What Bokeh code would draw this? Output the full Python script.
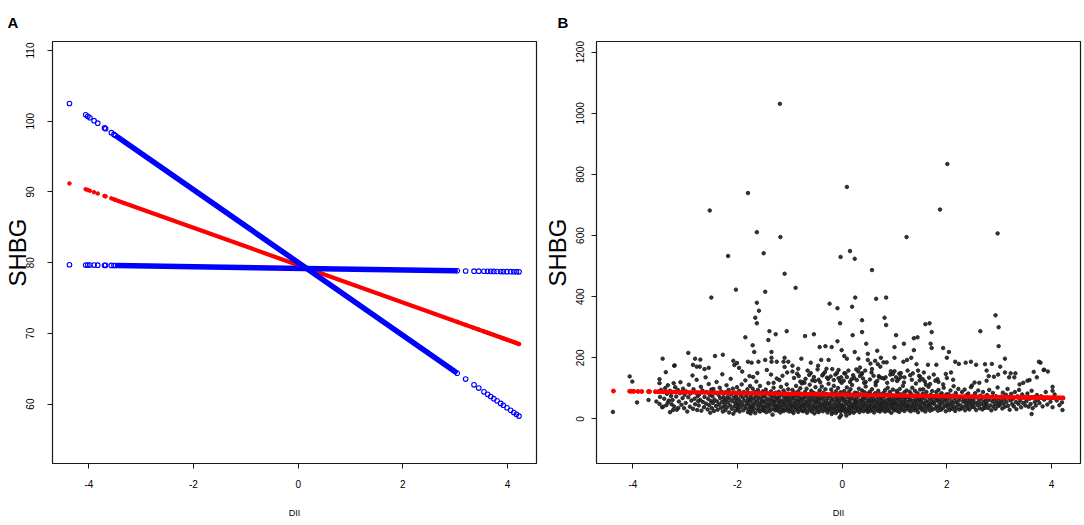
from bokeh.plotting import figure
from bokeh.models import FixedTicker, Range1d
from bokeh.layouts import row
from bokeh.embed import file_html
from bokeh.resources import INLINE

# ---------------- data ----------------
dii_ticks = [-4, -2, 0, 2, 4]
shbg_ticks_a = [60, 70, 80, 90, 100, 110]
shbg_ticks_b = [0, 200, 400, 600, 800, 1000, 1200]

# Panel A: fitted SHBG and the two bounds at the isolated DII observations
dii_sparse = [-4.37, -4.06, -4.02, -3.98, -3.90, -3.83, -3.70, -3.68, -3.57, -3.52, -3.49,
              3.04, 3.20, 3.36, 3.45, 3.55, 3.62, 3.68, 3.74, 3.80, 3.87, 3.92, 3.99, 4.06, 4.12, 4.17, 4.22]
fit_sparse = [91.20, 90.38, 90.27, 90.17, 89.96, 89.77, 89.43, 89.38, 89.09, 88.95, 88.87,
              71.62, 71.19, 70.77, 70.53, 70.27, 70.08, 69.92, 69.77, 69.61, 69.42, 69.29, 69.10, 68.92, 68.76, 68.63, 68.50]
bound_steep_sparse = [102.50, 100.90, 100.70, 100.49, 100.08, 99.72, 99.05, 98.95, 98.38, 98.13, 97.97,
                      64.37, 63.54, 62.72, 62.26, 61.74, 61.38, 61.07, 60.77, 60.46, 60.10, 59.84, 59.48, 59.12, 58.81, 58.55, 58.30]
bound_flat_sparse = [79.70, 79.66, 79.66, 79.65, 79.65, 79.64, 79.62, 79.62, 79.61, 79.60, 79.60,
                     78.84, 78.82, 78.80, 78.79, 78.78, 78.77, 78.77, 78.76, 78.75, 78.74, 78.74, 78.73, 78.72, 78.71, 78.71, 78.70]
# dense runs of observations (drawn as a continuous band)
dii_dense_blue = [-3.45, 3.00]
bound_steep_dense = [97.77, 64.58]
bound_flat_dense = [79.59, 78.85]
dii_dense_red = [-3.45, 4.22]
fit_dense = [88.76, 68.50]

outlier_dii = [-1.19, -1.80, -2.53, -1.63, -1.18, -2.18, -1.50, -1.10, -0.89, -2.50, -2.03, -1.47, -1.63, -1.59,
               -1.66, -1.63, -0.24, -0.09, -1.39, -1.27, -1.06, -1.85, -1.41, -0.71, -0.54, -1.71, -0.43, -0.32,
               -0.20, -0.09, -1.68, -1.35, -2.94, -2.43, -2.28, -3.43, -3.21, -2.81, -2.71, -2.85, -2.78, -2.72,
               -2.63, -2.55, -2.08, -2.01, -2.06, -1.97, -1.80, -1.73, -1.60, -1.47, -1.35, -1.35, -1.25, -1.10,
               -1.12, -1.03, -0.95, -0.84, -0.78, -0.60, -0.46, -0.40, -0.26, -0.30,
               2.01, 0.09, 1.87, 2.97, 1.23, 0.15, -0.03, 0.24, 0.57, 0.25, 0.65, 0.84, 0.19, 0.81, 0.84, -0.04,
               0.38, 0.20, 0.38, 0.46, 1.03, 1.59, 1.67, 1.71, 2.93, 2.99, 2.64, 2.99, 1.69, 1.71, 1.93, 2.04,
               1.37, 1.44, 1.18, 1.00, 1.37, -0.01, 0.24, 0.04, 0.09, 0.31, 0.49, 0.67, 0.74, 0.49, 1.00, 1.24,
               1.32, 1.17, 2.00, 2.16, 2.23, 2.36, 2.46, 2.56, 2.86, 3.02, 3.11, 1.64, 1.80, 3.76, 3.79, 3.86,
               -4.38, -4.06, -4.01, -3.92, -3.70, -3.49, -3.49, -3.37, -3.22, -3.20, -3.55, -3.49, -3.42, -3.33,
               -3.29, -3.23, -3.13,
               4.21, 4.20, 4.02, 4.02, 3.93, 3.85, 3.66, 3.72, 3.58, 3.54, 3.62, 3.46, 3.39, 3.29, 3.31, 3.22,
               3.19, 3.11, 2.98, 2.90, 2.80, 2.76, 2.73, 2.76, 2.53, 2.48, 2.08, 2.00, 1.98, 1.82, 1.78, 1.75,
               1.68, 1.60, 1.56, 1.48,
               0.04, -0.02, -0.07, 0.34, 0.38, 0.44, 0.54, 0.57, 0.63, 0.68, 0.73, 0.79, 0.85, 0.70, 0.76, 0.83,
               0.93, 0.97, 1.00, 1.03, 1.08, 1.12, 1.19, 1.25, 1.30, 1.35, 1.42, 1.45, 1.49, 1.54]
outlier_shbg = [1031, 739, 682, 611, 595, 533, 542, 475, 429, 397, 423, 416, 380, 354,
                331, 313, 377, 362, 287, 277, 287, 267, 258, 271, 277, 241, 235, 238,
                235, 254, 219, 219, 216, 206, 210, 197, 174, 197, 194, 177, 171, 171,
                163, 167, 190, 183, 176, 167, 187, 184, 187, 193, 200, 187, 187, 200,
                187, 187, 174, 164, 197, 184, 174, 193, 193, 164,
                834, 759, 685, 607, 595, 549, 530, 524, 487, 397, 393, 397, 367, 331, 307, 313,
                323, 274, 284, 246, 274, 310, 313, 284, 339, 300, 287, 238, 246, 232, 232, 219,
                264, 267, 246, 235, 225, 225, 219, 206, 197, 197, 213, 223, 200, 193, 200, 193,
                200, 187, 200, 187, 180, 184, 187, 177, 180, 171, 197, 177, 177, 187, 184, 161,
                23, 139, 122, 54, 62, 130, 117, 153, 117, 175, 57, 49, 40, 54,
                22, 29, 36,
                29, 54, 105, 92, 155, 160, 154, 136, 127, 125, 16, 118, 113, 136, 149, 149,
                136, 152, 145, 138, 140, 125, 179, 158, 119, 109, 152, 134, 147, 130, 125, 145,
                114, 112, 152, 126,
                149, 136, 160, 168, 149, 158, 181, 163, 190, 179, 171, 185, 185, 140, 134, 136,
                156, 147, 156, 136, 130, 150, 136, 158, 143, 149, 179, 158, 138, 130]

band_dii_1 = [-3.48, -3.46, -3.44, -3.41, -3.40, -3.38, -3.36, -3.35, -3.33, -3.31, -3.29, -3.27, -3.26,
              -3.24, -3.22, -3.21, -3.19, -3.17, -3.16, -3.14, -3.12, -3.10, -3.09, -3.07, -3.05, -3.04, -3.02, -3.01,
              -2.99, -2.98, -2.96, -2.94, -2.93, -2.91, -2.90, -2.88, -2.86, -2.85, -2.84, -2.82, -2.81, -2.79, -2.78, -2.77, -2.76, -2.75,
              -2.74, -2.73, -2.71, -2.70, -2.69, -2.67, -2.66, -2.64, -2.63, -2.61, -2.60, -2.59, -2.57, -2.56, -2.55, -2.54, -2.53, -2.52, -2.51, -2.50,
              -2.49, -2.48, -2.47, -2.46, -2.45, -2.44, -2.42, -2.41, -2.40, -2.39, -2.38, -2.36, -2.35, -2.34, -2.33, -2.32, -2.31, -2.30, -2.29, -2.28, -2.27, -2.27, -2.26, -2.25,
              -2.24, -2.23, -2.23, -2.22, -2.21, -2.20, -2.19, -2.18, -2.17, -2.16, -2.15, -2.14, -2.13, -2.12, -2.11, -2.10, -2.09, -2.08, -2.07, -2.06, -2.05, -2.04, -2.04, -2.03, -2.02, -2.01, -2.00, -2.00,
              -1.99, -1.98, -1.98, -1.97, -1.96, -1.95, -1.94, -1.93, -1.92, -1.91, -1.90, -1.89, -1.88, -1.87, -1.86, -1.85, -1.84, -1.83, -1.82, -1.81, -1.80, -1.80, -1.79, -1.78, -1.78, -1.77, -1.76, -1.76, -1.75, -1.75, -1.77, -1.91,
              -1.74, -1.74, -1.73, -1.72, -1.71, -1.71, -1.70, -1.69, -1.68, -1.67, -1.66, -1.66, -1.65, -1.64, -1.63, -1.62, -1.61, -1.61, -1.60, -1.59, -1.58, -1.57, -1.57, -1.56, -1.55, -1.54, -1.53, -1.53, -1.52, -1.51, -1.51, -1.50, -1.62, -1.70]
band_shbg_1 = [72, 95, 38, 88, 66, 101, 45, 82, 110, 60, 92, 75, 48,
               62, 88, 41, 104, 73, 30, 95, 57, 84, 120, 46, 68, 99, 35, 79,
               52, 90, 24, 71, 112, 40, 83, 60, 142, 33, 97, 66, 48, 86, 128, 29, 74, 58,
               44, 81, 62, 105, 27, 93, 55, 38, 72, 136, 50, 88, 31, 66, 114, 45, 79, 20, 58, 96,
               35, 74, 52, 98, 26, 63, 85, 42, 121, 57, 30, 78, 47, 102, 68, 36, 90, 55, 146, 24, 71, 40, 83, 61,
               48, 29, 87, 63, 110, 38, 72, 54, 95, 21, 66, 44, 131, 80, 33, 58, 99, 17, 69, 41, 86, 52, 27, 75, 61, 104, 36, 49,
               31, 66, 45, 92, 24, 57, 78, 39, 113, 50, 70, 28, 88, 60, 42, 126, 35, 75, 53, 97, 22, 64, 47, 84, 30, 58, 108, 40, 71, 18, 140, 155,
               37, 62, 81, 26, 50, 99, 43, 67, 33, 88, 56, 19, 74, 122, 46, 61, 29, 95, 38, 70, 52, 108, 24, 83, 44, 65, 31, 57, 90, 40, 76, 27, 150, 137]

band_dii_2 = [-1.49, -1.49, -1.48, -1.47, -1.46, -1.46, -1.45, -1.44, -1.43, -1.42, -1.42, -1.41, -1.40, -1.39, -1.38, -1.38, -1.37, -1.36, -1.35, -1.34, -1.33, -1.33, -1.32, -1.31, -1.30, -1.30, -1.29, -1.28, -1.27, -1.27, -1.26, -1.25, -1.25, -1.36, -1.44, -1.31,
              -1.24, -1.24, -1.23, -1.22, -1.21, -1.21, -1.20, -1.19, -1.18, -1.18, -1.17, -1.16, -1.15, -1.15, -1.14, -1.13, -1.12, -1.12, -1.11, -1.10, -1.09, -1.09, -1.08, -1.07, -1.06, -1.06, -1.05, -1.04, -1.03, -1.03, -1.02, -1.01, -1.00, -1.00, -1.14, -1.20, -1.05, -1.10,
              -0.99, -0.99, -0.98, -0.97, -0.96, -0.96, -0.95, -0.94, -0.93, -0.93, -0.92, -0.91, -0.90, -0.90, -0.89, -0.88, -0.87, -0.87, -0.86, -0.85, -0.84, -0.84, -0.83, -0.82, -0.81, -0.81, -0.80, -0.79, -0.78, -0.78, -0.77, -0.76, -0.76, -0.75, -0.92, -0.86, -0.80, -0.95, -0.83, -0.77,
              -0.74, -0.74, -0.73, -0.72, -0.71, -0.71, -0.70, -0.69, -0.68, -0.68, -0.67, -0.66, -0.65, -0.65, -0.64, -0.63, -0.62, -0.62, -0.61, -0.60, -0.59, -0.59, -0.58, -0.57, -0.56, -0.56, -0.55, -0.54, -0.53, -0.53, -0.52, -0.51, -0.51, -0.50, -0.70, -0.63, -0.57, -0.66, -0.54, -0.72, -0.60, -0.52,
              -0.49, -0.49, -0.48, -0.47, -0.46, -0.46, -0.45, -0.44, -0.43, -0.43, -0.42, -0.41, -0.40, -0.40, -0.39, -0.38, -0.37, -0.37, -0.36, -0.35, -0.34, -0.34, -0.33, -0.32, -0.31, -0.31, -0.30, -0.29, -0.28, -0.28, -0.27, -0.26, -0.26, -0.25, -0.45, -0.38, -0.33, -0.42, -0.29, -0.47, -0.36, -0.27,
              -0.24, -0.24, -0.23, -0.22, -0.21, -0.21, -0.20, -0.19, -0.18, -0.18, -0.17, -0.16, -0.15, -0.15, -0.14, -0.13, -0.12, -0.12, -0.11, -0.10, -0.09, -0.09, -0.08, -0.07, -0.06, -0.06, -0.05, -0.04, -0.03, -0.03, -0.02, -0.01, -0.01, 0.00, -0.22, -0.16, -0.10, -0.19, -0.07, -0.13, -0.04, -0.05, -0.02, -0.20]
band_shbg_2 = [54, 29, 73, 41, 96, 60, 22, 84, 47, 35, 66, 117, 52, 25, 79, 43, 62, 90, 31, 70, 48, 14, 58, 102, 37, 76, 55, 28, 86, 44, 65, 33, 132, 145, 160, 118,
               42, 68, 27, 55, 89, 36, 74, 49, 21, 61, 105, 39, 80, 30, 58, 46, 93, 26, 70, 52, 34, 84, 63, 44, 113, 28, 72, 56, 38, 97, 66, 24, 48, 81, 141, 127, 152, 170,
               33, 57, 78, 44, 26, 66, 95, 38, 51, 19, 72, 86, 41, 60, 30, 108, 49, 76, 35, 63, 23, 90, 54, 43, 70, 31, 100, 58, 39, 82, 27, 65, 47, 121, 134, 148, 122, 155, 140, 116,
               45, 25, 69, 37, 88, 55, 30, 74, 48, 99, 20, 62, 40, 81, 53, 28, 70, 112, 46, 35, 92, 59, 24, 77, 43, 64, 32, 85, 51, 18, 73, 39, 104, 57, 131, 144, 126, 158, 137, 118, 150, 124,
               36, 61, 27, 83, 47, 70, 22, 56, 94, 39, 67, 31, 78, 50, 106, 42, 25, 64, 86, 53, 34, 73, 45, 97, 29, 58, 40, 81, 21, 66, 49, 115, 33, 75, 128, 142, 153, 120, 135, 162, 147, 131,
               52, 28, 74, 41, 96, 60, 35, 84, 23, 66, 47, 108, 31, 79, 55, 38, 90, 19, 69, 44, 26, 62, 101, 50, 33, 76, 58, 40, 87, 24, 67, 46, 118, 30, 139, 127, 150, 163, 133, 145, 124, 5, 12, 16]

band_dii_3 = [0.01, 0.01, 0.02, 0.03, 0.04, 0.04, 0.05, 0.06, 0.07, 0.07, 0.08, 0.09, 0.10, 0.10, 0.11, 0.12, 0.13, 0.13, 0.14, 0.15, 0.16, 0.16, 0.17, 0.18, 0.19, 0.19, 0.20, 0.21, 0.22, 0.22, 0.23, 0.24, 0.24, 0.25, 0.03, 0.09, 0.15, 0.06, 0.18, 0.12, 0.21, 0.08, 0.14, 0.23,
              0.26, 0.26, 0.27, 0.28, 0.29, 0.29, 0.30, 0.31, 0.32, 0.32, 0.33, 0.34, 0.35, 0.35, 0.36, 0.37, 0.38, 0.38, 0.39, 0.40, 0.41, 0.41, 0.42, 0.43, 0.44, 0.44, 0.45, 0.46, 0.47, 0.47, 0.48, 0.49, 0.49, 0.50, 0.28, 0.34, 0.40, 0.31, 0.45, 0.37, 0.27, 0.42,
              0.51, 0.51, 0.52, 0.53, 0.54, 0.54, 0.55, 0.56, 0.57, 0.57, 0.58, 0.59, 0.60, 0.60, 0.61, 0.62, 0.63, 0.63, 0.64, 0.65, 0.66, 0.66, 0.67, 0.68, 0.69, 0.69, 0.70, 0.71, 0.72, 0.72, 0.73, 0.74, 0.74, 0.75, 0.53, 0.60, 0.67, 0.56, 0.71, 0.64,
              0.76, 0.76, 0.77, 0.78, 0.79, 0.79, 0.80, 0.81, 0.82, 0.82, 0.83, 0.84, 0.85, 0.85, 0.86, 0.87, 0.88, 0.88, 0.89, 0.90, 0.91, 0.91, 0.92, 0.93, 0.94, 0.94, 0.95, 0.96, 0.97, 0.97, 0.98, 0.99, 0.99, 1.00, 0.80, 0.86, 0.92, 0.96,
              1.01, 1.01, 1.02, 1.03, 1.04, 1.04, 1.05, 1.06, 1.07, 1.07, 1.08, 1.09, 1.10, 1.10, 1.11, 1.12, 1.13, 1.13, 1.14, 1.15, 1.16, 1.16, 1.17, 1.18, 1.19, 1.19, 1.20, 1.21, 1.22, 1.22, 1.23, 1.24, 1.05, 1.12, 1.18, 1.09,
              1.26, 1.26, 1.27, 1.28, 1.29, 1.29, 1.30, 1.31, 1.32, 1.33, 1.34, 1.34, 1.35, 1.36, 1.37, 1.38, 1.39, 1.39, 1.40, 1.41, 1.42, 1.43, 1.44, 1.44, 1.45, 1.46, 1.47, 1.48, 1.49, 1.49, 1.50, 1.33, 1.41, 1.47]
band_shbg_3 = [43, 70, 29, 58, 91, 37, 64, 22, 81, 49, 33, 103, 56, 26, 72, 45, 88, 31, 61, 39, 97, 53, 24, 68, 42, 111, 34, 77, 50, 20, 63, 86, 38, 57, 125, 137, 121, 149, 130, 158, 143, 11, 18, 134,
               48, 27, 66, 38, 85, 55, 31, 74, 44, 99, 22, 60, 36, 80, 52, 29, 93, 63, 41, 71, 25, 57, 46, 87, 34, 68, 106, 50, 28, 76, 39, 59, 23, 83, 127, 140, 132, 155, 121, 146, 162, 118,
               35, 62, 45, 89, 26, 71, 52, 38, 97, 58, 30, 78, 43, 66, 21, 55, 84, 40, 110, 33, 63, 48, 75, 27, 92, 54, 37, 69, 46, 24, 81, 59, 32, 50, 129, 141, 124, 152, 136, 119,
               41, 67, 29, 56, 85, 36, 73, 48, 24, 94, 60, 38, 79, 51, 31, 102, 64, 44, 26, 71, 55, 88, 35, 62, 47, 20, 77, 42, 57, 96, 33, 68, 50, 28, 132, 118, 145, 127,
               53, 32, 76, 44, 91, 60, 27, 69, 39, 84, 50, 23, 65, 98, 36, 57, 80, 45, 30, 72, 52, 108, 40, 63, 26, 87, 48, 70, 34, 58, 93, 42, 124, 137, 119, 148,
               46, 71, 30, 58, 89, 38, 64, 25, 81, 49, 35, 102, 60, 43, 75, 28, 55, 92, 39, 67, 48, 31, 84, 59, 22, 73, 44, 62, 36, 96, 53, 128, 116, 141]

band_dii_4 = [1.51, 1.52, 1.53, 1.54, 1.55, 1.55, 1.56, 1.57, 1.58, 1.59, 1.60, 1.61, 1.62, 1.62, 1.63, 1.64, 1.65, 1.66, 1.67, 1.68, 1.69, 1.69, 1.70, 1.71, 1.72, 1.73, 1.74, 1.75, 1.58, 1.66,
              1.76, 1.77, 1.78, 1.79, 1.80, 1.81, 1.82, 1.83, 1.84, 1.85, 1.86, 1.87, 1.87, 1.88, 1.89, 1.90, 1.91, 1.92, 1.93, 1.94, 1.95, 1.96, 1.97, 1.98, 1.99, 2.00, 1.84, 1.93,
              2.01, 2.02, 2.03, 2.04, 2.05, 2.06, 2.07, 2.08, 2.09, 2.10, 2.11, 2.12, 2.13, 2.14, 2.15, 2.16, 2.17, 2.18, 2.19, 2.20, 2.21, 2.22, 2.23, 2.24, 2.25, 2.12,
              2.26, 2.27, 2.28, 2.29, 2.31, 2.32, 2.33, 2.34, 2.35, 2.36, 2.37, 2.38, 2.39, 2.40, 2.41, 2.42, 2.43, 2.44, 2.45, 2.46, 2.47, 2.48, 2.49, 2.50,
              2.51, 2.52, 2.54, 2.55, 2.56, 2.58, 2.59, 2.60, 2.61, 2.63, 2.64, 2.65, 2.66, 2.68, 2.69, 2.70, 2.71, 2.72, 2.73, 2.74, 2.75, 2.62,
              2.76, 2.77, 2.79, 2.80, 2.81, 2.83, 2.84, 2.85, 2.87, 2.88, 2.89, 2.90, 2.92, 2.93, 2.94, 2.95, 2.97, 2.98, 2.99, 3.00,
              3.01, 3.03, 3.04, 3.06, 3.07, 3.08, 3.10, 3.11, 3.13, 3.14, 3.16, 3.17, 3.19, 3.20, 3.22, 3.23, 3.25,
              3.26, 3.28, 3.30, 3.32, 3.33, 3.35, 3.37, 3.38, 3.40, 3.42, 3.44, 3.46, 3.48, 3.50,
              3.52, 3.54, 3.56, 3.58, 3.60, 3.62, 3.64, 3.66, 3.68, 3.70, 3.72, 3.74,
              3.77, 3.80, 3.83, 3.86, 3.89, 3.92, 3.95, 3.98, 4.02, 4.06, 4.10, 4.15]
band_shbg_4 = [40, 65, 29, 83, 52, 97, 36, 70, 47, 24, 59, 88, 42, 74, 33, 56, 105, 45, 68, 27, 79, 50, 38, 62, 91, 31, 54, 72, 122, 135,
               49, 73, 34, 60, 88, 41, 66, 27, 95, 55, 38, 78, 46, 63, 30, 84, 52, 71, 36, 102, 58, 43, 67, 25, 80, 48, 121, 113,
               62, 38, 81, 50, 29, 70, 93, 44, 58, 33, 76, 52, 107, 40, 66, 26, 85, 55, 36, 73, 47, 98, 60, 31, 69, 128,
               45, 71, 34, 88, 57, 40, 64, 96, 28, 52, 77, 43, 61, 37, 83, 54, 31, 68, 47, 104, 59, 39, 74, 50,
               63, 38, 84, 52, 29, 70, 45, 93, 58, 35, 76, 49, 66, 31, 88, 55, 42, 72, 36, 60, 47, 118,
               51, 78, 36, 62, 95, 44, 70, 28, 57, 85, 40, 66, 49, 33, 74, 58, 103, 42, 68, 53,
               45, 72, 58, 34, 86, 50, 64, 40, 79, 55, 98, 43, 67, 30, 60, 82, 48,
               66, 41, 88, 55, 32, 74, 49, 95, 60, 38, 80, 52, 70, 44,
               58, 83, 40, 66, 49, 92, 35, 71, 55, 44, 78, 62,
               52, 74, 41, 63, 88, 47, 69, 56, 38, 80, 60, 45]

# ---------------- layout / style ----------------
FONT = "Liberation Sans"
FW, FH = 484, 423          # plot frame size in px
HEIGHT = 524
TOP = 40
XR = (-4.694, 4.554)
YR_A = (51.6, 111.27)
YR_B = (-145.9, 1234.9)
RED = "#FF0000"
BLUE = "#0000FF"


def make_fig(width, left, right, yr, yticks, letter, letter_offset, tick_standoff, label_standoff):
    p = figure(width=width, height=HEIGHT, x_range=Range1d(*XR), y_range=Range1d(*yr),
               output_backend="svg", toolbar_location=None, title=letter,
               min_border_left=left, min_border_right=right,
               min_border_top=TOP, min_border_bottom=HEIGHT - TOP - FH)
    p.title.text_font = FONT
    p.title.text_font_size = "15px"
    p.title.text_font_style = "bold"
    p.title.text_color = "black"
    p.title.align = "left"
    p.title.offset = letter_offset
    p.title.standoff = 22
    p.grid.visible = False
    p.outline_line_color = "#1a1a1a"
    p.outline_line_width = 1.2
    p.background_fill_color = "white"
    p.border_fill_color = "white"
    for ax in (p.xaxis[0], p.yaxis[0]):
        ax.axis_line_color = None
        ax.major_tick_out = 5
        ax.major_tick_in = 0
        ax.major_tick_line_color = "#1a1a1a"
        ax.major_tick_line_width = 1
        ax.minor_tick_line_color = None
        ax.major_label_text_font = FONT
        ax.major_label_text_font_size = "10px"
        ax.major_label_text_color = "black"
        ax.axis_label_text_font = FONT
        ax.axis_label_text_font_style = "normal"
        ax.axis_label_text_color = "black"
    p.xaxis.ticker = FixedTicker(ticks=dii_ticks)
    p.xaxis.major_label_overrides = {t: str(t) for t in dii_ticks}
    p.xaxis.major_label_standoff = 11
    p.xaxis.axis_label = "DII"
    p.xaxis.axis_label_text_font_size = "9px"
    p.xaxis.axis_label_standoff = 17
    p.yaxis.ticker = FixedTicker(ticks=yticks)
    p.yaxis.major_label_overrides = {t: str(t) for t in yticks}
    p.yaxis.major_label_orientation = "vertical"
    p.yaxis.major_label_standoff = tick_standoff
    p.yaxis.axis_label = "SHBG"
    p.yaxis.axis_label_text_font_size = "24px"
    p.yaxis.axis_label_standoff = label_standoff
    return p


# ---------- Panel A ----------
pa = make_fig(540, 52, 4, YR_A, shbg_ticks_a, "A", -45, 13, -7)
pa.line(dii_dense_red, fit_dense, line_color=RED, line_width=4.2, line_cap="round")
pa.scatter(dii_sparse, fit_sparse, size=3.6, color=RED)
for dense_y, sparse_y in ((bound_steep_dense, bound_steep_sparse), (bound_flat_dense, bound_flat_sparse)):
    pa.line(dii_dense_blue, dense_y, line_color=BLUE, line_width=5.5, line_cap="round")
    pa.scatter(dii_sparse, sparse_y, size=4.6, marker="circle", fill_color=None,
               line_color=BLUE, line_width=1.1)

# ---------- Panel B ----------
pb = make_fig(543, 56, 3, YR_B, shbg_ticks_b, "B", -39, 7, 3)
for xs, ys in ((band_dii_1, band_shbg_1), (band_dii_2, band_shbg_2),
               (band_dii_3, band_shbg_3), (band_dii_4, band_shbg_4),
               (outlier_dii, outlier_shbg)):
    n = min(len(xs), len(ys))
    pb.scatter(xs[:n], ys[:n], size=3.5, color="#1e1e1e", alpha=0.9)
pb.line(dii_dense_red, fit_dense, line_color=RED, line_width=4.3, line_cap="round")
pb.scatter(dii_sparse, fit_sparse, size=4, color=RED)

layout = row(pa, pb)
open("out.html", "w").write(file_html(layout, INLINE))
